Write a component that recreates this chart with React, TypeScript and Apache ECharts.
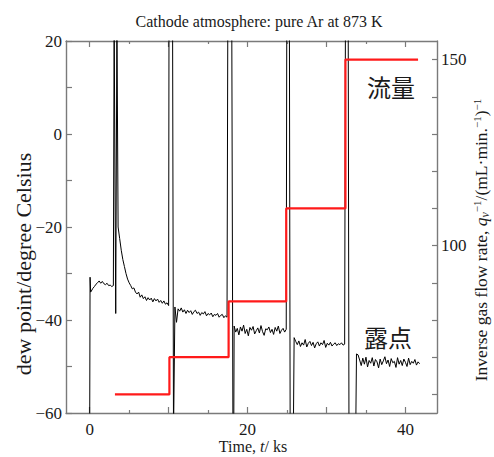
import React, { useEffect, useRef } from 'react';
import * as echarts from 'echarts';

// ---------- data ----------
const STEP = 0.2; // ks between samples inside each steady segment

// black: dew point (degree Celsius)
const onsetPoints: [number, number][] = [[0.0, -65], [0.05, -30.8], [0.12, -34.0]];
const riseStart = 0.2;
const riseValues = [-33.8, -33.2, -32.8, -32.3, -32.0, -31.6, -32.1, -31.7, -32.2, -32.4, -32.1, -32.6, -32.5, -32.8, -32.6];
const spike1: [number, number][] = [[3.1, 25], [3.3, -38.6], [3.45, 25]];
const decayStart = 3.6;
const decayValues = [-20, -22.5, -25, -27, -28.5, -30, -31.2, -32, -32.6, -33.3, -33.1, -34.0, -34.4, -34.0, -35.1, -34.6, -35.4, -35.0, -35.8, -35.2, -35.7, -35.3, -36.1, -35.4, -35.9, -35.5, -36.2, -35.8, -36.4, -35.9, -36.6, -36.3, -36.9];
const spike2: [number, number][] = [[10.05, 25], [10.5, 25], [10.62, -65], [10.7, -65]];
const level2Start = 10.8;
const level2Values = [-37.2, -40.5, -37.6, -38.1, -37.4, -38.3, -37.8, -38.6, -37.9, -38.4, -38.0, -38.8, -38.2, -37.9, -38.6, -38.3, -39.0, -38.4, -38.7, -38.2, -39.1, -38.6, -38.9, -38.5, -39.3, -38.8, -39.0, -38.6, -39.4, -39.0, -38.8, -39.5, -39.1, -39.4];
const spike3: [number, number][] = [[17.5, 25], [18.0, 25], [18.15, -65], [18.25, -65]];
const level3Start = 18.3;
const level3Values = [-41.3, -42.6, -41.8, -43.2, -41.5, -42.4, -41.1, -42.9, -42.0, -43.4, -41.6, -42.2, -41.4, -43.0, -42.3, -41.7, -42.8, -41.2, -42.5, -43.3, -41.9, -42.1, -41.5, -42.7, -42.0, -43.1, -41.6, -42.4, -41.3, -42.9, -42.2, -41.8, -42.6, -42.0];
const spike4: [number, number][] = [[24.97, 25], [25.3, 25], [25.4, -65], [25.8, -65]];
const level4Start = 25.9;
const level4Values = [-43.8, -44.6, -45.3, -44.5, -45.7, -44.9, -45.4, -44.2, -45.8, -45.0, -44.6, -45.5, -44.8, -46.0, -45.1, -44.7, -45.6, -44.9, -45.3, -44.4, -45.9, -45.0, -45.4, -44.8, -45.6, -45.2, -44.9, -45.5, -45.1, -45.3, -44.9, -45.4, -45.2];
const spike5: [number, number][] = [[32.4, 25], [32.75, 25], [32.85, -65], [33.7, -65]];
const level5Start = 33.8;
const level5Values = [-47.3, -47.5, -48.6, -49.8, -48.2, -49.5, -48.0, -50.1, -48.7, -49.3, -48.1, -49.9, -48.5, -49.0, -50.3, -48.4, -49.6, -48.8, -47.9, -49.4, -48.6, -50.0, -48.3, -49.2, -48.9, -50.2, -48.1, -49.5, -48.7, -49.8, -48.4, -49.1, -50.0, -48.2, -49.6, -48.9, -49.3, -48.5, -49.7, -49.0, -49.4];

// red: inverse gas flow rate steps
const flowTimes = [3.2, 10.1, 17.6, 24.9, 32.4, 41.6];
const flowLevels = [60, 70, 85, 110, 150];

// axes
const xMin = -3, xMax = 44;
const xMajorTicks = [0, 10, 20, 30, 40];
const xMinorTicks = [5, 15, 25, 35];
const xLabels = [0, 20, 40];
const yLeftLabels = [-60, -40, -20, 0, 20];
const yRightTicks = [60, 70, 80, 90, 100, 110, 120, 130, 140, 150];
const yRightLabels = [100, 150];

// ---------- build ----------
const seg = (start: number, vals: number[]) => vals.map((v, i) => [+(start + i * STEP).toFixed(2), v]);
const dewData = [
  ...onsetPoints,
  ...seg(riseStart, riseValues),
  ...spike1,
  ...seg(decayStart, decayValues),
  ...spike2,
  ...seg(level2Start, level2Values),
  ...spike3,
  ...seg(level3Start, level3Values),
  ...spike4,
  ...seg(level4Start, level4Values),
  ...spike5,
  ...seg(level5Start, level5Values),
];
const flowData: number[][] = [];
flowLevels.forEach((lv, i) => {
  flowData.push([flowTimes[i], lv], [flowTimes[i + 1], lv]);
});

const SERIF = '"Liberation Serif", "Times New Roman", serif';
const CJK = '"Noto Sans CJK JP", "Noto Sans CJK SC", sans-serif';
const AXIS = '#7a7a7a';
const TXT = '#1a1a1a';
const minus = (v: number) => (v < 0 ? '\u2212' + Math.abs(v) : String(v));

const gridBox = { left: 66, right: 57, top: 41, bottom: 44, containLabel: false, outerBoundsMode: 'none' };
const baseX = {
  type: 'value' as const, min: xMin, max: xMax,
  splitLine: { show: false },
};

export default function App() {
  const ref = useRef<HTMLDivElement>(null);
  useEffect(() => {
    const chart = echarts.init(ref.current!, null, { renderer: 'svg' });
    chart.setOption({
      animation: false,
      backgroundColor: '#fff',
      title: {
        text: 'Cathode atmosphere: pure Ar at 873 K',
        left: 254, top: 8, textAlign: 'center',
        textStyle: { fontFamily: SERIF, fontSize: 16, fontWeight: 'normal', color: TXT },
      },
      grid: [{ ...gridBox }, { ...gridBox }],
      xAxis: [
        {
          ...baseX, gridIndex: 0, position: 'bottom',
          axisLine: { onZero: false, lineStyle: { color: AXIS, width: 1.4 } },
          axisTick: { inside: true, length: 6, customValues: xMajorTicks, lineStyle: { color: AXIS, width: 1.2 } },
          axisLabel: { customValues: xLabels, margin: 8, fontFamily: SERIF, fontSize: 17, color: TXT },
        },
        {
          ...baseX, gridIndex: 0, position: 'top',
          axisLine: { onZero: false, lineStyle: { color: AXIS, width: 1.4 } },
          axisTick: { inside: true, length: 6, customValues: xMajorTicks, lineStyle: { color: AXIS, width: 1.2 } },
          axisLabel: { show: false },
        },
        {
          ...baseX, gridIndex: 1, position: 'bottom',
          axisLine: { show: false, onZero: false },
          axisTick: { inside: true, length: 3, customValues: xMinorTicks, lineStyle: { color: AXIS, width: 1.2 } },
          axisLabel: { show: false },
        },
        {
          ...baseX, gridIndex: 1, position: 'top',
          axisLine: { show: false, onZero: false },
          axisTick: { inside: true, length: 3, customValues: xMinorTicks, lineStyle: { color: AXIS, width: 1.2 } },
          axisLabel: { show: false },
        },
      ],
      yAxis: [
        {
          type: 'value', gridIndex: 0, position: 'left', min: -60, max: 20, interval: 10,
          splitLine: { show: false },
          axisLine: { show: true, onZero: false, lineStyle: { color: AXIS, width: 1.4 } },
          axisTick: { show: true, inside: true, length: 6, lineStyle: { color: AXIS, width: 1.2 } },
          axisLabel: { customValues: yLeftLabels, formatter: minus, margin: 4, fontFamily: SERIF, fontSize: 17, color: TXT },
        },
        {
          type: 'value', gridIndex: 0, position: 'right', min: 55, max: 155,
          splitLine: { show: false },
          axisLine: { show: true, onZero: false, lineStyle: { color: AXIS, width: 1.4 } },
          axisTick: { show: true, inside: true, length: 5, customValues: yRightTicks, lineStyle: { color: AXIS, width: 1.2 } },
          axisLabel: { customValues: yRightLabels, margin: 4, fontFamily: SERIF, fontSize: 17, color: TXT },
        },
        { type: 'value', gridIndex: 1, show: false, min: 0, max: 1 },
      ],
      graphic: [
        {
          type: 'text', x: 253, y: 446,
          style: {
            text: 'Time, {i|t}/ ks', font: `16px ${SERIF}`, fill: TXT, textAlign: 'center', textVerticalAlign: 'middle',
            rich: { i: { font: `italic 16px ${SERIF}`, fill: TXT } },
          },
        },
        {
          type: 'text', x: 23, y: 264, rotation: Math.PI / 2,
          style: { text: 'dew point/degree Celsius', font: `22px ${SERIF}`, fill: TXT, textAlign: 'center', textVerticalAlign: 'middle' },
        },
        {
          type: 'text', x: 481, y: 240, rotation: Math.PI / 2,
          style: {
            text: 'Inverse gas flow rate, {i|q}{sub|v}{sup|\u22121}/(mL\u00b7min.{sup|\u22121}){sup|\u22121}',
            font: `17.5px ${SERIF}`, fill: TXT, textAlign: 'center', textVerticalAlign: 'middle', lineHeight: 20,
            rich: {
              i: { font: `italic 17.5px ${SERIF}`, fill: TXT, lineHeight: 20 },
              sub: { font: `italic 12px ${SERIF}`, fill: TXT, verticalAlign: 'bottom', lineHeight: 12 },
              sup: { font: `11px ${SERIF}`, fill: TXT, verticalAlign: 'top', lineHeight: 11 },
            },
          },
        },
        { type: 'text', x: 391, y: 86, style: { text: '流量', font: `24px ${CJK}`, fill: TXT, textAlign: 'center', textVerticalAlign: 'middle' } },
        { type: 'text', x: 388, y: 336, style: { text: '露点', font: `24px ${CJK}`, fill: TXT, textAlign: 'center', textVerticalAlign: 'middle' } },
      ],
      series: [
        {
          name: 'dew point', type: 'line', xAxisIndex: 0, yAxisIndex: 0, data: dewData,
          showSymbol: false, symbol: 'none', clip: true,
          lineStyle: { color: '#000', width: 1 },
        },
        {
          name: 'flow', type: 'line', xAxisIndex: 0, yAxisIndex: 1, data: flowData,
          showSymbol: false, symbol: 'none', clip: true,
          lineStyle: { color: '#ff1a1a', width: 2.2 },
        },
      ],
    });
    return () => chart.dispose();
  }, []);
  return <div ref={ref} style={{ position: 'fixed', left: 0, top: 0, width: 494, height: 457 }} />;
}
